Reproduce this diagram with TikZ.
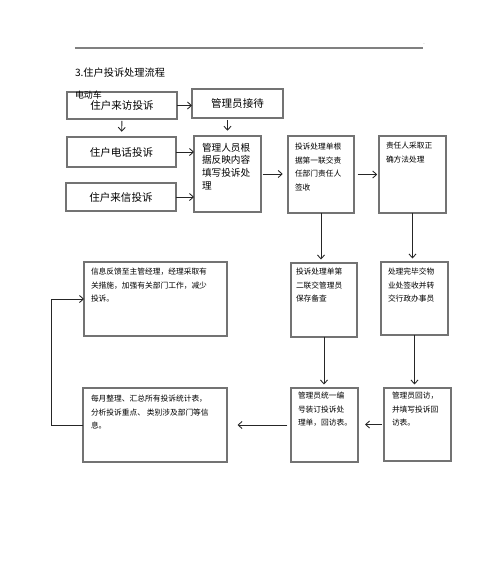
\documentclass[tikz,border=0pt]{standalone}
\usepackage{fontspec}
\setmainfont{Noto Sans CJK SC}
\usetikzlibrary{arrows.meta}

\begin{document}
\begin{tikzpicture}[
  x=0.02cm, y=-0.02cm,
  every node/.style={inner sep=0pt, outer sep=0pt},
  box/.style={rectangle, draw=black!55, line width=0.6pt},
  big/.style={font=\fontsize{6pt}{7pt}\selectfont},
  mid/.style={anchor=north west, align=left, font=\fontsize{5.5pt}{7.3pt}\selectfont},
  txt/.style={anchor=north west, align=left, font=\fontsize{4.4pt}{7.7pt}\selectfont},
  arr/.style={-{Straight Barb[length=2.2pt,width=4pt]}, line width=0.5pt, black!85}
]
\useasboundingbox (0,0) rectangle (500,566);

% 页眉和标题
\draw[black!50, line width=0.8pt] (75,48) -- (423,48);
\node[font=\fontsize{3pt}{3pt}\selectfont, black!60] (dot) at (424,44) {.};
\node[anchor=west, font=\fontsize{5.8pt}{7pt}\selectfont] (title) at (75,73) {3.住户投诉处理流程};

% 投诉来源
\node[box, big, minimum width=2.2cm, minimum height=0.54cm] (A) at (122,105.5) {住户来访投诉};
\node[anchor=west, font=\fontsize{5.1pt}{6pt}\selectfont] (ev) at (75,95) {电动车};
\node[box, big, minimum width=1.82cm, minimum height=0.58cm] (B) at (237.5,103.5) {管理员接待};
\node[box, big, minimum width=2.18cm, minimum height=0.6cm] (C) at (121.5,152) {住户电话投诉};
\node[box, big, minimum width=2.2cm, minimum height=0.56cm] (D) at (121,197) {住户来信投诉};

% 处理环节
\node[box, minimum width=1.34cm, minimum height=1.52cm] (E) at (227.5,174) {};
\node[mid] (Et) at ([shift={(8,7)}]E.north west) {管理人员根\\据反映内容\\填写投诉处\\理};
\node[box, minimum width=1.32cm, minimum height=1.54cm] (F) at (321,174.5) {};
\node[txt] (Ft) at ([shift={(7,7)}]F.north west) {投诉处理单根\\据第一联交责\\任部门责任人\\签收};
\node[box, minimum width=1.34cm, minimum height=1.54cm] (G) at (412.5,174.5) {};
\node[txt] (Gt) at ([shift={(7,6)}]G.north west) {责任人采取正\\确方法处理};

\node[box, minimum width=2.86cm, minimum height=1.48cm] (J) at (155.5,299) {};
\node[txt] (Jt) at ([shift={(7,6)}]J.north west) {信息反馈至主管经理，经理采取有\\关措施，加强有关部门工作，减少\\投诉。};
\node[box, minimum width=1.32cm, minimum height=1.48cm] (H) at (324,300) {};
\node[txt] (Ht) at ([shift={(5,5)}]H.north west) {投诉处理单第\\二联交管理员\\保存备查};
\node[box, minimum width=1.34cm, minimum height=1.46cm] (I) at (414.5,298.5) {};
\node[txt] (It) at ([shift={(7,6)}]I.north west) {处理完毕交物\\业处签收并转\\交行政办事员};

\node[box, minimum width=2.88cm, minimum height=1.48cm] (K) at (155,425) {};
\node[txt] (Kt) at ([shift={(8,7)}]K.north west) {每月整理、汇总所有投诉统计表，\\分析投诉重点、 类别涉及部门等信\\息。};
\node[box, minimum width=1.34cm, minimum height=1.48cm] (L) at (324.5,425) {};
\node[txt] (Lt) at ([shift={(7,4)}]L.north west) {管理员统一编\\号装订投诉处\\理单，回访表。};
\node[box, minimum width=1.34cm, minimum height=1.46cm] (M) at (417.5,424.5) {};
\node[txt] (Mt) at ([shift={(8,4)}]M.north west) {管理员回访，\\并填写投诉回\\访表。};

% 连线
\draw[arr] (A.east) -- (A.east -| B.west);
\draw[arr, shorten <=1pt, shorten >=3pt] (A.south) -- (C.north);
\draw[arr, shorten <=1pt, shorten >=3pt] (E.north |- B.south) -- (E.north);
\draw[arr] (C.east) -- (C.east -| E.west);
\draw[arr] (D.east) -- (D.east -| E.west);
\draw[arr, shorten <=1pt, shorten >=3pt] (E.east) -- (E.east -| F.west);
\draw[arr, shorten <=2pt, shorten >=1pt] (F.east) -- (F.east -| G.west);
\draw[arr, shorten >=2pt] (F.south) -- (F.south |- H.north);
\draw[arr, shorten >=2pt] (G.south) -- (G.south |- I.north);
\draw[arr, shorten >=2pt] (H.south) -- (H.south |- L.north);
\draw[arr, shorten >=2pt] (I.south) -- (I.south |- M.north);
\draw[arr, shorten <=1pt, shorten >=4pt] (M.west) -- (M.west -| L.east);
\draw[arr, shorten <=2pt, shorten >=6pt] (L.west) -- (L.west -| K.east);
\draw[arr] (K.west) -- ++(-32,0) |- (J.west);
\end{tikzpicture}
\end{document}
